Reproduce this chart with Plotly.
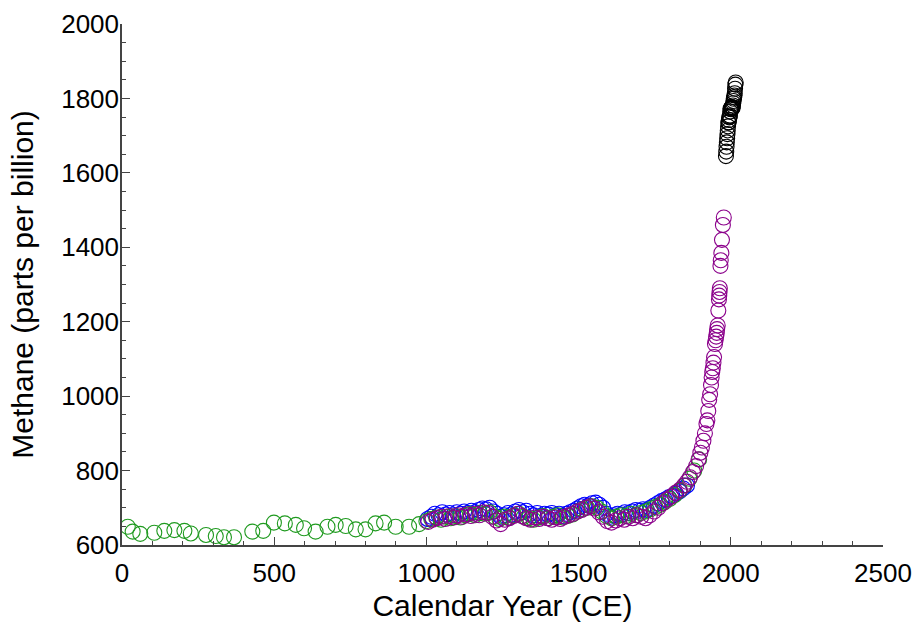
import plotly.graph_objects as go

# Early record (0-1000 CE), green
green_early_year = [19, 35, 60, 106, 139, 172, 205, 226, 276, 308, 335, 368, 428, 464,
                    499, 535, 571, 598, 636, 675, 702, 735, 768, 800, 833, 861, 899,
                    943, 976]
green_early_ch4 = [649, 636, 630, 633, 638, 640, 638, 631, 627, 624, 621, 621, 636, 638,
                   660, 658, 654, 645, 636, 649, 654, 651, 642, 642, 658, 660, 649,
                   649, 656]

# Green record, 1000-1900 CE
green_year = [1000, 1016, 1032, 1048, 1064, 1080, 1096, 1112, 1128, 1144, 1160, 1176,
              1192, 1208, 1224, 1240, 1256, 1272, 1288, 1304, 1320, 1336, 1352, 1368,
              1384, 1400, 1416, 1432, 1448, 1464, 1480, 1496, 1512, 1528, 1544, 1560,
              1576, 1592, 1608, 1624, 1640, 1656, 1672, 1688, 1704, 1720, 1736, 1752,
              1768, 1784, 1800, 1816, 1832, 1848, 1864, 1880, 1896]
green_ch4 = [664, 670, 674, 668, 676, 672, 678, 674, 680, 684, 680, 686,
             684, 688, 676, 670, 676, 674, 680, 684, 676, 672, 668, 674,
             678, 672, 676, 680, 674, 678, 682, 690, 696, 700, 704, 700,
             690, 678, 672, 676, 680, 678, 684, 680, 686, 690, 696, 702,
             708, 716, 724, 734, 746, 760, 778, 800, 830]

# Blue record, 1000-1860 CE
blue_year = [1004, 1016, 1028, 1040, 1052, 1064, 1076, 1088, 1100, 1112, 1124, 1136,
             1148, 1160, 1172, 1184, 1196, 1208, 1220, 1232, 1244, 1256, 1268, 1280,
             1292, 1304, 1316, 1328, 1340, 1352, 1364, 1376, 1388, 1400, 1412, 1424,
             1436, 1448, 1460, 1472, 1484, 1496, 1508, 1520, 1532, 1544, 1556, 1568,
             1580, 1592, 1604, 1616, 1628, 1640, 1652, 1664, 1676, 1688, 1700, 1712,
             1724, 1736, 1748, 1760, 1772, 1784, 1796, 1808, 1820, 1832, 1844, 1856]
blue_ch4 = [670, 676, 684, 680, 688, 682, 686, 680, 688, 684, 690, 686,
            692, 688, 694, 698, 696, 700, 690, 684, 676, 680, 686, 682,
            690, 694, 688, 692, 684, 680, 686, 678, 684, 682, 686, 680,
            684, 678, 684, 688, 692, 698, 704, 708, 706, 712, 714, 708,
            700, 684, 676, 680, 684, 682, 688, 686, 690, 694, 692, 696,
            694, 700, 706, 712, 718, 722, 728, 732, 738, 744, 752, 760]

# Purple record, 1000-1977 CE
purple_year = [1006, 1020, 1034, 1048, 1062, 1076, 1090, 1104, 1118, 1132, 1146, 1160,
               1174, 1188, 1202, 1216, 1230, 1244, 1258, 1272, 1286, 1300, 1314, 1328,
               1342, 1356, 1370, 1384, 1398, 1412, 1426, 1440, 1454, 1468, 1482, 1496,
               1510, 1524, 1538, 1552, 1566, 1580, 1594, 1608, 1622, 1636, 1650, 1664,
               1678, 1692, 1706, 1720, 1734, 1748, 1762, 1776, 1790, 1804, 1818, 1832,
               1846, 1856, 1866, 1876, 1886, 1894, 1900, 1905, 1910, 1915, 1920, 1923,
               1926, 1929, 1932, 1935, 1937, 1939, 1941, 1943, 1945, 1948, 1950, 1952,
               1954, 1955, 1957, 1959, 1961, 1962, 1963, 1964, 1966, 1967, 1969, 1971,
               1974, 1977]
purple_ch4 = [662, 668, 672, 676, 670, 678, 674, 680, 676, 682, 678, 684,
              680, 688, 686, 676, 666, 656, 668, 672, 678, 684, 678, 672,
              668, 674, 670, 676, 672, 668, 674, 670, 676, 680, 684, 690,
              694, 700, 704, 698, 688, 676, 664, 660, 666, 672, 668, 676,
              672, 680, 676, 672, 680, 690, 700, 712, 722, 730, 740, 748,
              760, 770, 782, 796, 812, 830, 848, 862, 880, 900, 925, 935,
              960, 990, 1005, 1030, 1050, 1065, 1075, 1090, 1105, 1140, 1150, 1160,
              1170, 1180, 1190, 1230, 1260, 1270, 1280, 1290, 1350, 1365, 1385, 1420,
              1460, 1480]

# Black record, modern direct measurements
black_year = [1984, 1985, 1986, 1987, 1988, 1989, 1990, 1991, 1992, 1993, 1994, 1995,
              1996, 1997, 1998, 1999, 2000, 2001, 2002, 2003, 2004, 2005, 2006, 2007,
              2008, 2009, 2010, 2011, 2012, 2013, 2014, 2015, 2016]
black_ch4 = [1645, 1657, 1670, 1682, 1693, 1704, 1714, 1725, 1735, 1736, 1742, 1749,
             1751, 1754, 1765, 1772, 1773, 1771, 1772, 1777, 1777, 1774, 1775, 1781,
             1787, 1793, 1799, 1803, 1808, 1814, 1826, 1837, 1843]

GREEN = "#1f9a1f"
BLUE = "#0000ff"
PURPLE = "#8b008b"
BLACK = "#000000"


def ring(x, y, color):
    return go.Scatter(
        x=x, y=y, mode="markers",
        marker=dict(symbol="circle-open", size=15, color=color,
                    line=dict(width=1.1, color=color)),
        showlegend=False, hoverinfo="x+y",
    )


fig = go.Figure()
fig.add_trace(ring(green_early_year, green_early_ch4, GREEN))
fig.add_trace(ring(blue_year, blue_ch4, BLUE))
fig.add_trace(ring(green_year, green_ch4, GREEN))
fig.add_trace(ring(purple_year, purple_ch4, PURPLE))
fig.add_trace(ring(black_year, black_ch4, BLACK))

axis_color = "#444444"
font_family = "Liberation Sans, Arial, sans-serif"

fig.update_layout(
    width=917, height=628,
    margin=dict(l=122, r=34, t=24, b=83),
    paper_bgcolor="white", plot_bgcolor="white",
    font=dict(family=font_family, color="black"),
    xaxis=dict(
        range=[0, 2500], tickmode="linear", tick0=0, dtick=500,
        automargin=False,
        showgrid=False, zeroline=False,
        showline=True, linecolor=axis_color, linewidth=1.5,
        ticks="inside", ticklen=8, tickwidth=1.2, tickcolor=axis_color,
        ticklabelstandoff=4,
        minor=dict(ticks="inside", dtick=100, ticklen=4, tickwidth=1,
                   tickcolor=axis_color, showgrid=False),
        tickfont=dict(size=26, family=font_family, color="black"),
        title=dict(text="Calendar Year (CE)", standoff=8,
                   font=dict(size=30, family=font_family, color="black")),
    ),
    yaxis=dict(
        range=[600, 2000], tickmode="linear", tick0=600, dtick=200,
        automargin=False,
        showgrid=False, zeroline=False,
        showline=True, linecolor=axis_color, linewidth=1.5,
        ticks="inside", ticklen=8, tickwidth=1.2, tickcolor=axis_color,
        ticklabelstandoff=-4,
        minor=dict(ticks="inside", dtick=50, ticklen=4, tickwidth=1,
                   tickcolor=axis_color, showgrid=False),
        tickfont=dict(size=26, family=font_family, color="black"),
        title=dict(text="Methane (parts per billion)", standoff=19,
                   font=dict(size=30, family=font_family, color="black")),
    ),
)

fig.write_html("out.html")
